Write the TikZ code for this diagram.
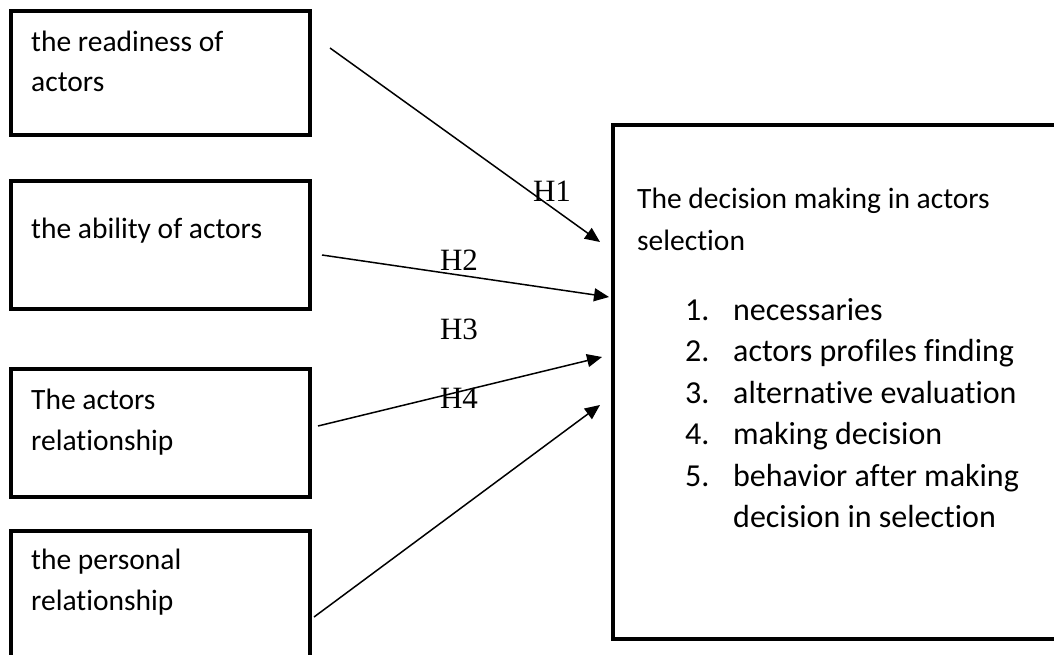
\documentclass[tikz,border=0pt]{standalone}
\usepackage{fontspec}
\setmainfont{Carlito}[Ligatures=NoCommon]
\newfontfamily\hypfont{Liberation Serif}
\usetikzlibrary{arrows.meta}

\newcommand{\itemno}[1]{\makebox[48pt][l]{#1}}

\tikzset{
  factor/.style={draw, line width=4pt, anchor=north west, inner sep=0pt, outer sep=0pt,
    minimum width=299pt, minimum height=124pt},
  boxtext/.style={anchor=base west, inner sep=0pt, align=left,
    font=\fontsize{29.5}{40.5}\selectfont},
  hyp/.style={font=\hypfont\fontsize{31}{31}\selectfont, inner sep=0pt},
  link/.style={line width=1.5pt, -{Triangle[length=15pt,width=13pt]}}
}

\begin{document}
\begin{tikzpicture}[x=1pt, y=-1pt]
    \clip (0,0) rectangle (1054,655);

    % left boxes
    \node[factor] (read) at (11,11.5) {};
    \node[factor, minimum height=128pt] (abil) at (11,181) {};
    \node[factor, minimum height=128pt] (rel) at (11,369) {};
    \node[factor, minimum height=130pt] (pers) at (11,531) {};

    % base = last line
    \node[boxtext] (readtxt) at (31,92) {the readiness of\\actors};
    \node[boxtext] (abiltxt) at (31,238) {the ability of actors};
    \node[boxtext] (reltxt) at (31,450) {The actors\\relationship};
    \node[boxtext] (perstxt) at (31,610) {the personal\\relationship};

    % right box
    \node[factor, minimum width=460pt, minimum height=514pt] (dec) at (613,125) {};
    \node[boxtext, font=\fontsize{29.5}{42}\selectfont] (dectitle) at (637,250)
        {The decision making in actors\\selection};
    \node[boxtext, font=\fontsize{32}{41.5}\selectfont] (declist) at (685,527.5)
        {\itemno{1.}necessaries\\
         \itemno{2.}actors profiles finding\\
         \itemno{3.}alternative evaluation\\
         \itemno{4.}making decision\\
         \itemno{5.}behavior after making\\
         \hspace*{48pt}decision in selection};

    % arrow ends
    \coordinate (readout) at (330,48);
    \coordinate (abilout) at (322,255);
    \coordinate (relout) at (318,426);
    \coordinate (persout) at (314,617);
    \coordinate (decin1) at (600,242);
    \coordinate (decin2) at (609,297);
    \coordinate (decin3) at (602,357);
    \coordinate (decin4) at (600,405);

    \draw[link] (readout) -- (decin1);
    \draw[link] (abilout) -- (decin2);
    \draw[link] (relout) -- (decin3);
    \draw[link] (persout) -- (decin4);

    \node[hyp] (h1) at (552,191) {H1};
    \node[hyp] (h2) at (459,260) {H2};
    \node[hyp] (h3) at (459,329) {H3};
    \node[hyp] (h4) at (459,398) {H4};
\end{tikzpicture}
\end{document}
